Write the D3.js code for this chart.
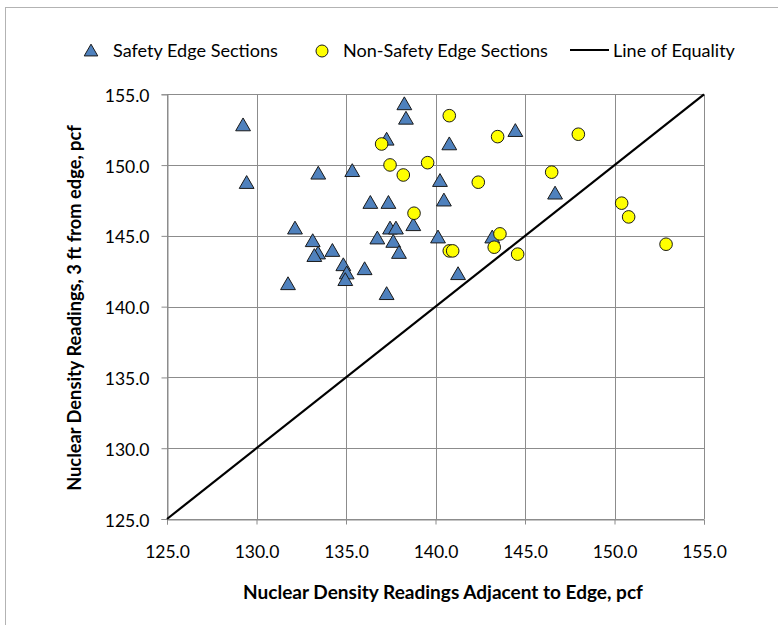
<!DOCTYPE html>
<html><head><meta charset="utf-8">
<script src="https://cdn.jsdelivr.net/npm/d3@7"></script>
<style>
body{margin:0;background:#fff;}
text{font-family:Lato,"Open Sans",sans-serif;fill:#000;}
</style></head>
<body><svg id="chart" width="778" height="625"></svg>
<script>
// Safety Edge Sections: [x adjacent to edge, y 3 ft from edge]
const safetyX = [129.25,129.45,133.45,135.35,138.26,138.35,137.27,132.15,133.14,133.44,133.23,134.24,134.85,135.04,134.96,131.76,136.04,137.27,136.36,137.37,136.75,137.46,137.79,137.64,137.96,138.76,140.77,144.46,140.25,140.47,140.14,143.17,141.26,146.68];
const safetyY = [152.83,148.76,149.42,149.60,154.32,153.30,151.82,145.54,144.65,143.78,143.60,143.96,142.95,142.37,141.90,141.61,142.67,140.91,147.35,147.35,144.84,145.54,145.54,144.60,143.82,145.78,151.49,152.43,148.90,147.52,144.91,144.91,142.32,148.01];
// Non-Safety Edge Sections
const nonSafetyX = [140.77,136.99,143.47,147.98,137.46,139.56,138.20,142.39,146.49,150.40,150.79,152.88,138.80,140.77,140.96,143.60,143.28,144.59];
const nonSafetyY = [153.49,151.49,152.01,152.18,150.01,150.17,149.30,148.79,149.50,147.31,146.34,144.41,146.60,143.94,143.94,145.14,144.20,143.71];
// Line of equality
const equalityLine = [125, 155];
const tickValues = [125,130,135,140,145,150,155];
const seriesNames = ["Safety Edge Sections","Non-Safety Edge Sections","Line of Equality"];
const xTitle = "Nuclear Density Readings Adjacent to Edge, pcf";
const yTitle = "Nuclear Density Readings, 3 ft from edge, pcf";

const svg = d3.select("#chart");
const m = {left:167, right:704, top:94.3, bottom:519};
const x = d3.scaleLinear().domain([125,155]).range([m.left,m.right]);
const y = d3.scaleLinear().domain([125,155]).range([m.bottom,m.top]);

// fit text to a target width by adjusting font size
function fitText(sel, target, base){
  sel.attr("font-size", base);
  const w = sel.node().getComputedTextLength();
  sel.attr("font-size", (base*target/w).toFixed(2));
}

// outer chart border
svg.append("rect").attr("x",5.5).attr("y",7.5).attr("width",800).attr("height",700)
  .attr("fill","none").attr("stroke","#b3b3b3").attr("stroke-width",1);

const grid = svg.append("g");
tickValues.forEach(v=>{
  grid.append("line").attr("x1",Math.round(x(v))+0.5).attr("x2",Math.round(x(v))+0.5)
    .attr("y1",m.top).attr("y2",m.bottom).attr("stroke","#8c8c8c").attr("stroke-width",1);
  grid.append("line").attr("y1",Math.round(y(v))+0.5).attr("y2",Math.round(y(v))+0.5)
    .attr("x1",m.left).attr("x2",m.right).attr("stroke","#8c8c8c").attr("stroke-width",1);
});

const fmt = d3.format(".1f");
const xAxis = svg.append("g").attr("transform",`translate(0,${Math.round(m.bottom)+0.5})`)
  .call(d3.axisBottom(x).tickValues(tickValues).tickFormat(fmt).tickSize(5).tickPadding(14));
const yAxis = svg.append("g").attr("transform",`translate(${Math.round(m.left)+0.5},0)`)
  .call(d3.axisLeft(y).tickValues(tickValues).tickFormat(fmt).tickSize(6).tickPadding(14));
[xAxis,yAxis].forEach(a=>{
  a.select(".domain").attr("stroke","#8c8c8c");
  a.selectAll(".tick line").attr("stroke","#8c8c8c");
  a.selectAll(".tick text").attr("font-family","Lato, sans-serif").attr("font-size",17.5).attr("fill","#000");
});
yAxis.selectAll(".tick text").attr("x",-18).attr("dy","0.4em");
xAxis.selectAll(".tick text").attr("y",32).attr("dy","0.36em");

const triSym = d3.symbol().type(d3.symbolTriangle).size(95);
const blue = "#4f81bd";
const safetyData = safetyX.map((d,i)=>[d,safetyY[i]]);
const nonData = nonSafetyX.map((d,i)=>[d,nonSafetyY[i]]);

svg.append("g").selectAll("path").data(safetyData).join("path")
  .attr("d",triSym)
  .attr("transform",d=>`translate(${x(d[0])},${y(d[1])+1.5})`)
  .attr("fill",blue).attr("stroke","#1a1a1a").attr("stroke-width",1);

svg.append("g").selectAll("circle").data(nonData).join("circle")
  .attr("cx",d=>x(d[0])).attr("cy",d=>y(d[1])).attr("r",6.3)
  .attr("fill","#ffff00").attr("stroke","#1a1a1a").attr("stroke-width",1);

svg.append("line")
  .attr("x1",x(equalityLine[0])).attr("y1",y(equalityLine[0]))
  .attr("x2",x(equalityLine[1])).attr("y2",y(equalityLine[1]))
  .attr("stroke","#000").attr("stroke-width",2.2);

// titles
const xt = svg.append("text").attr("x",443).attr("y",592).attr("dy","0.35em").attr("text-anchor","middle")
  .attr("font-weight","bold").text(xTitle);
fitText(xt, 400, 18);
const yt = svg.append("text").attr("transform","translate(75,308) rotate(-90)").attr("dy","0.35em").attr("text-anchor","middle")
  .attr("font-weight","bold").text(yTitle);
fitText(yt, 366, 18);

// legend
const lg = svg.append("g");
lg.append("path").attr("d",d3.symbol().type(d3.symbolTriangle).size(80)).attr("transform","translate(91,52)")
  .attr("fill",blue).attr("stroke","#1a1a1a");
const t1 = lg.append("text").attr("x",113).attr("y",51).attr("dy","0.35em").text(seriesNames[0]);
fitText(t1, 165, 18);
lg.append("circle").attr("cx",322).attr("cy",51).attr("r",6).attr("fill","#ffff00").attr("stroke","#1a1a1a");
const t2 = lg.append("text").attr("x",343).attr("y",51).attr("dy","0.35em").text(seriesNames[1]);
fitText(t2, 205, 18);
lg.append("line").attr("x1",570).attr("x2",609).attr("y1",50).attr("y2",50).attr("stroke","#000").attr("stroke-width",2.2);
const t3 = lg.append("text").attr("x",613).attr("y",51).attr("dy","0.35em").text(seriesNames[2]);
fitText(t3, 122, 18);
</script>
</body></html>
